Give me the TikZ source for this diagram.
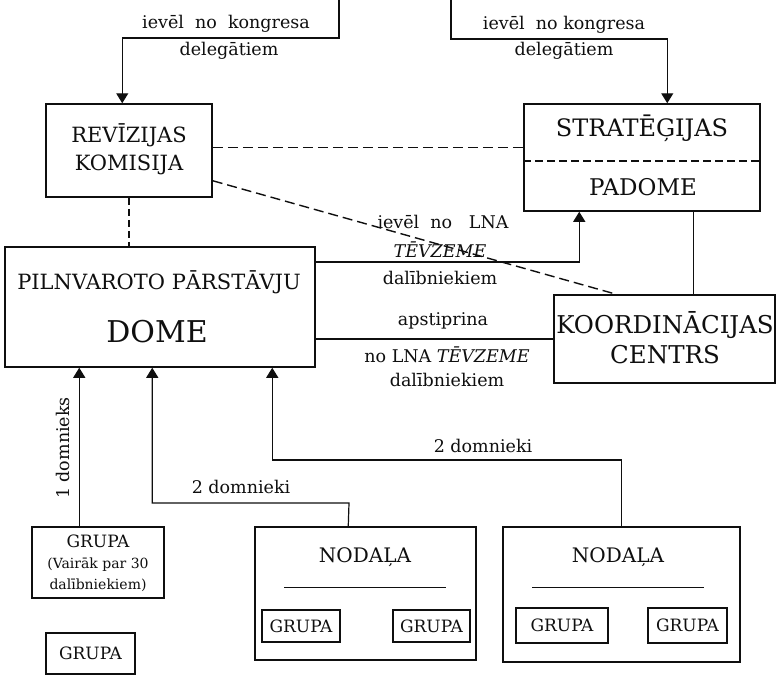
\documentclass[tikz,border=0pt]{standalone}
\usepackage{fontspec}
\setmainfont{DejaVu Serif}
\usetikzlibrary{arrows.meta,calc}
\definecolor{ink}{RGB}{15,15,15}
\newcommand{\fsz}[2]{\fontsize{#1}{#2}\selectfont}
\begin{document}
\begin{tikzpicture}[x=1pt,y=-1pt,
  box/.style={draw=ink, line width=1.5pt, inner sep=0pt, rectangle},
  lbl/.style={inner sep=0pt, text=ink, align=center, font=\fsz{17.5}{20}},
  conn/.style={draw=ink, line width=1.2pt},
  arr/.style={conn, -{Triangle[width=12pt,length=10pt]}},
  dsh/.style={conn, line width=1.4pt, dash pattern=on 10pt off 5pt},
]
\useasboundingbox (0,0) rectangle (783,693);
\fill[white] (0,0) rectangle (783,693);

% main boxes
\node[box, minimum width=166pt, minimum height=93pt] (rev) at (129,150.5) {};
\node[box, minimum width=236pt, minimum height=107pt] (strat) at (642,157.5) {};
\node[box, minimum width=310pt, minimum height=120pt] (dome) at (160,307) {};
\node[box, minimum width=221pt, minimum height=88pt] (koord) at (664.5,339) {};
\node[box, minimum width=132pt, minimum height=71pt] (g1) at (98,562.5) {};
\node[box, minimum width=89pt, minimum height=41pt] (g2) at (90.5,653.5) {};
\node[box, minimum width=221pt, minimum height=133pt] (nod1) at (365.5,593.5) {};
\node[box, minimum width=237pt, minimum height=135pt] (nod2) at (621.5,594.5) {};
\node[box, minimum width=78pt, minimum height=32pt] (g3) at (301,626) {};
\node[box, minimum width=77pt, minimum height=32pt] (g4) at (431.5,626) {};
\node[box, minimum width=92pt, minimum height=35pt] (g5) at (562,625.5) {};
\node[box, minimum width=79pt, minimum height=35pt] (g6) at (687.5,625.5) {};

% box texts
\node[lbl, font=\fsz{21}{28}] (revt) at (129,149) {REVĪZIJAS\\KOMISIJA};
\node[lbl, font=\fsz{24}{28}] (strat1) at (642,128) {STRATĒĢIJAS};
\node[lbl, font=\fsz{23}{26}] (strat2) at (643,187) {PADOME};
\draw[dsh, line width=1.2pt, dash pattern=on 8pt off 4pt] (strat.west |- 0,161) -- (strat.east |- 0,161);
\node[lbl, font=\fsz{21}{24}] (dome1) at (159,282) {PILNVAROTO PĀRSTĀVJU};
\node[lbl, font=\fsz{30}{34}] (dome2) at (157,332) {DOME};
\node[lbl, font=\fsz{24.5}{30}] (koordt) at (665,338) {KOORDINĀCIJAS\\CENTRS};
\node[lbl, font=\fsz{17}{21}] (g1t) at (98,563) {GRUPA\\{\fsz{14}{21}(Vairāk par 30}\\{\fsz{14}{21}dalībniekiem)}};
\node[lbl, font=\fsz{17}{20}] (g2t) at (g2) {GRUPA};
\node[lbl, font=\fsz{20}{24}] (n1t) at (365,557) {NODAĻA};
\node[lbl, font=\fsz{20}{24}] (n2t) at (618,557) {NODAĻA};
\draw[conn, line width=1pt] ($(nod1.west)+(30,-6.5)$) -- ($(nod1.east)+(-31,-6.5)$);
\draw[conn, line width=1pt] ($(nod2.west)+(30,-7.5)$) -- ($(nod2.east)+(-37,-7.5)$);
\node[lbl, font=\fsz{17}{20}] (g3t) at (g3) {GRUPA};
\node[lbl, font=\fsz{17}{20}] (g4t) at (g4) {GRUPA};
\node[lbl, font=\fsz{17}{20}] (g5t) at (g5) {GRUPA};
\node[lbl, font=\fsz{17}{20}] (g6t) at (g6) {GRUPA};

% top connectors
\coordinate (tl) at (339,0);
\coordinate (tlc) at (339,38);
\draw[arr] (tl) -- (tlc) -| ($(rev.north west)+(77,0)$);
\node[lbl] (tl1) at (226,24) {ievēl\ \ no\ \ kongresa};
\node[lbl] (tl2) at (229,51) {delegātiem};
\coordinate (tr) at (451,0);
\coordinate (trc) at (451,39);
\draw[arr] (tr) -- (trc) -| ($(strat.north west)+(144,0)$);
\node[lbl] (tr1) at (564,25) {ievēl\ \ no kongresa};
\node[lbl] (tr2) at (564,51) {delegātiem};

% dashed links
\draw[dsh] ($(rev.east)+(0,-3)$) -- ($(strat.west)+(0,-10)$);
\draw[dsh] ($(rev.south east)+(0,-17)$) -- ($(koord.north west)+(63,0)$);
\draw[conn, dash pattern=on 7pt off 4pt] (rev.south) -- (rev.south |- dome.north);

% dome -> strategijas
\draw[arr] ($(dome.east)+(0,-45)$) -| ($(strat.south west)+(56,0)$);
\node[lbl] (u1) at (443,222) {ievēl\ \ no\ \ \ LNA};
\node[lbl, font=\fsz{17.5}{20}\itshape] (u2) at (440,250) {TĒVZEME};
\node[lbl] (u3) at (440,278) {dalībniekiem};
% strategijas - koord
\draw[conn] ($(strat.south east)+(-67,0)$) -- ($(koord.north east)+(-82,0)$);
% dome - koord
\draw[conn] (dome.east |- koord.west) -- (koord.west);
\node[lbl] (a1) at (443,321) {apstiprina};
\node[lbl] (a2) at (447,355) {no LNA \textit{TĒVZEME}};
\node[lbl] (a3) at (447,380) {dalībniekiem};

% bottom connectors
\draw[arr] ($(g1.north west)+(48,0)$) -- ($(dome.south west)+(75,0)$);
\node[lbl, rotate=90] (d1) at (63,448) {1 domnieks};
\coordinate (b1) at (349,503);
\draw[arr] ($(nod1.north west)+(94,0)$) -- (b1) -| ($(dome.south west)+(148,0)$);
\node[lbl] (d2) at (241,487) {2 domnieki};
\coordinate (b2) at (621.5,460);
\draw[arr] (nod2.north) -- (b2) -| ($(dome.south west)+(268,0)$);
\node[lbl] (d3) at (483,446) {2 domnieki};
\end{tikzpicture}
\end{document}
